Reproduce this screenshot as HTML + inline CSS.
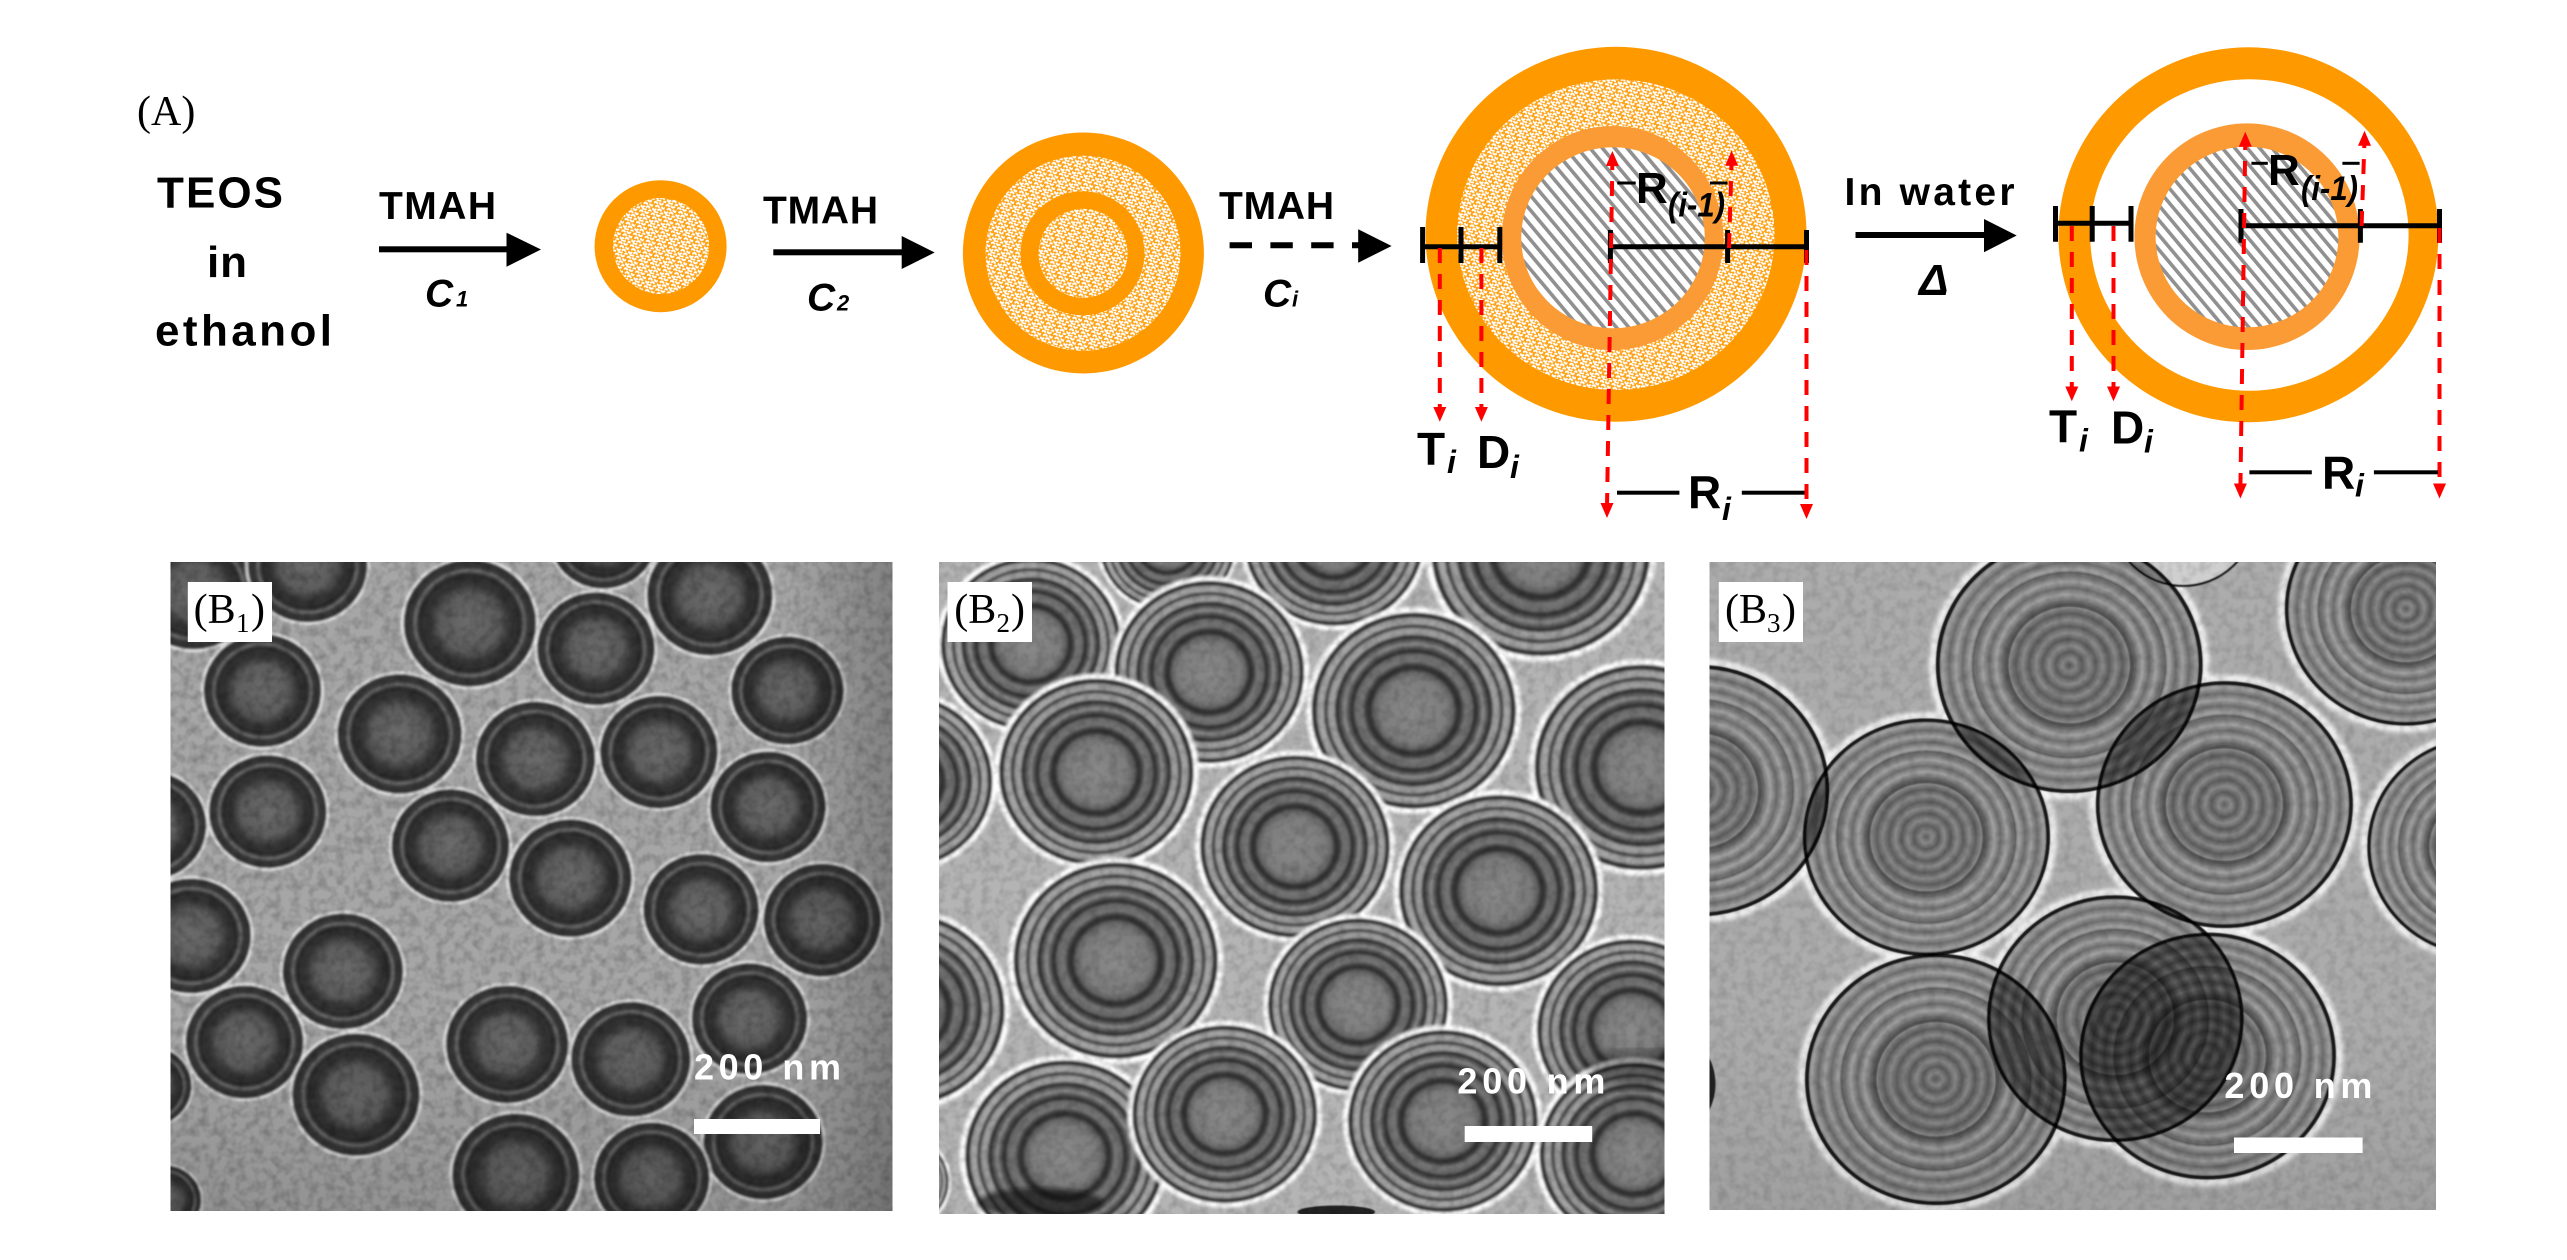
<!DOCTYPE html>
<html><head><meta charset="utf-8"><style>
html,body{margin:0;padding:0;background:#fff}
svg{display:block}
text{font-family:"Liberation Sans",sans-serif}
.b{font-weight:700}
.bi{font-weight:700;font-style:italic}
.s{font-family:"Liberation Serif",serif}
.w{fill:#fff;font-weight:700;font-size:36px}
</style></head><body>
<svg width="2567" height="1260" viewBox="0 0 2567 1260" xmlns="http://www.w3.org/2000/svg">
<defs>
<pattern id="po" width="12" height="12" patternUnits="userSpaceOnUse" patternTransform="rotate(15)">
<rect width="12" height="12" fill="#fea216"/>
<path d="M.5 2q1.500-1.500 3 0M6 1.500q1.500 2 3 0M3 5.500q1.500-2 3 0M9 5q1.500 2 3 0M.5 8.500q1.500 2 3 0M6 8.500q1.500-2 3 0M3 11q1.500 1 3 0M9.500 11.500q1-1.500 2 0" stroke="#fff" stroke-width="2" stroke-linecap="round" fill="none"/>
</pattern>
<pattern id="ha" width="9.500" height="9.500" patternUnits="userSpaceOnUse" patternTransform="rotate(-40)">
<rect width="9.500" height="9.500" fill="#fff"/><rect width="3.600" height="9.500" fill="#909090"/>
</pattern>
<radialGradient id="g1" gradientUnits="userSpaceOnUse" cx="0" cy="0" r="108">
<stop offset="0" stop-color="#6c6c6c"/><stop offset=".42" stop-color="#5c5c5c"/><stop offset=".58" stop-color="#353535"/><stop offset=".72" stop-color="#2c2c2c"/><stop offset=".775" stop-color="#6e6e6e"/><stop offset=".82" stop-color="#3a3a3a"/><stop offset=".9" stop-color="#303030"/><stop offset=".926" stop-color="#4a4a4a"/><stop offset=".95" stop-color="#f0f0f0"/><stop offset="1" stop-color="#eee" stop-opacity="0"/>
</radialGradient>
<radialGradient id="g2" gradientUnits="userSpaceOnUse" cx="0" cy="0" r="108">
<stop offset="0" stop-color="#8a8a8a"/><stop offset=".3" stop-color="#7d7d7d"/><stop offset=".36" stop-color="#666"/><stop offset=".4" stop-color="#2f2f2f"/><stop offset=".43" stop-color="#3a3a3a"/><stop offset=".47" stop-color="#777"/><stop offset=".53" stop-color="#6a6a6a"/><stop offset=".56" stop-color="#2e2e2e"/><stop offset=".59" stop-color="#4d4d4d"/><stop offset=".63" stop-color="#8c8c8c"/><stop offset=".67" stop-color="#555"/><stop offset=".7" stop-color="#2d2d2d"/><stop offset=".73" stop-color="#a0a0a0"/><stop offset=".77" stop-color="#9a9a9a"/><stop offset=".8" stop-color="#3c3c3c"/><stop offset=".83" stop-color="#a8a8a8"/><stop offset=".87" stop-color="#a0a0a0"/><stop offset=".895" stop-color="#333"/><stop offset=".92" stop-color="#3a3a3a"/><stop offset=".935" stop-color="#fbfbfb"/><stop offset=".96" stop-color="#fff"/><stop offset="1" stop-color="#fff" stop-opacity="0"/>
</radialGradient>
<radialGradient id="g3" gradientUnits="userSpaceOnUse" cx="0" cy="0" r="10" spreadMethod="repeat">
<stop offset="0" stop-color="#6e6e6e"/><stop offset=".5" stop-color="#a2a2a2"/><stop offset="1" stop-color="#6e6e6e"/>
</radialGradient>
<g id="p1"><circle r="108" fill="url(#g1)"/></g>
<g id="p2"><circle r="108" fill="url(#g2)"/></g>
<g id="p3" style="mix-blend-mode:multiply"><circle r="100" fill="url(#g3)"/><circle r="50" fill="#000" fill-opacity=".14"/><circle r="47" fill="none" stroke="#555" stroke-width="3"/><circle r="72" fill="none" stroke="#666" stroke-width="2"/><circle r="98.500" fill="none" stroke="#1c1c1c" stroke-width="3"/></g>
<clipPath id="c1"><rect x="170.500" y="562" width="722" height="649"/></clipPath>
<clipPath id="c2"><rect x="939" y="562" width="725.500" height="652"/></clipPath>
<clipPath id="c3"><rect x="1709.500" y="562" width="726.500" height="648"/></clipPath>
<filter id="bl" x="-5%" y="-5%" width="110%" height="110%"><feGaussianBlur stdDeviation="1.100"/></filter>
<filter id="hb"><feGaussianBlur stdDeviation="5"/></filter>
<filter id="hb2"><feGaussianBlur stdDeviation="14"/></filter>
<filter id="nz" x="0" y="0" width="100%" height="100%"><feTurbulence type="fractalNoise" baseFrequency=".11" numOctaves="2" seed="4"/><feColorMatrix values="0 0 0 0 0 0 0 0 0 0 0 0 0 0 0 2.200 0 0 0 -.85"/></filter>
<linearGradient id="vr" x1="0" x2="1" y1="0" y2="0"><stop offset=".85" stop-color="#000" stop-opacity="0"/><stop offset="1" stop-color="#000" stop-opacity=".22"/></linearGradient>
<linearGradient id="vb" x1="0" x2="0" y1="0" y2="1"><stop offset=".7" stop-color="#000" stop-opacity="0"/><stop offset="1" stop-color="#000" stop-opacity=".12"/></linearGradient>
</defs>
<rect width="2567" height="1260" fill="#fff"/>

<!-- Panel A -->
<text class="s" x="137" y="125" font-size="42">(A)</text>
<text class="b" x="157" y="207.700" font-size="44" textLength="126" lengthAdjust="spacing">TEOS</text>
<text class="b" x="207" y="277" font-size="44" textLength="40" lengthAdjust="spacing">in</text>
<text class="b" x="155" y="345.700" font-size="44" textLength="177" lengthAdjust="spacing">ethanol</text>

<text class="b" x="379" y="219" font-size="39" textLength="117" lengthAdjust="spacing">TMAH</text>
<rect x="379" y="246.300" width="130" height="6"/><path d="M506.500 232.700L541 249.500 506.500 266.700z"/>
<text class="bi" x="425" y="306.700" font-size="39">C</text><text class="bi" x="456" y="306.700" font-size="22">1</text>

<circle cx="660.600" cy="246.200" r="66" fill="#ff9900"/>
<circle cx="661" cy="246" r="48" fill="url(#po)"/>

<text class="b" x="763" y="223.300" font-size="39" textLength="115" lengthAdjust="spacing">TMAH</text>
<rect x="773.300" y="249.300" width="130" height="6"/><path d="M901.700 236L934.700 252.500 901.700 269z"/>
<text class="bi" x="807" y="310.700" font-size="39">C</text><text class="bi" x="837" y="310.700" font-size="22">2</text>

<circle cx="1083.400" cy="253" r="120.500" fill="#ff9900"/>
<circle cx="1083" cy="253.300" r="97.500" fill="url(#po)"/>
<circle cx="1082.500" cy="253.300" r="62" fill="#ff9900"/>
<circle cx="1083" cy="253.300" r="44.500" fill="url(#po)"/>

<text class="b" x="1219" y="219" font-size="39" textLength="115" lengthAdjust="spacing">TMAH</text>
<path d="M1229.600 245.300H1360" stroke="#000" stroke-width="6" stroke-dasharray="22.400 18.400" fill="none"/><path d="M1358.200 229.300L1391.600 246 1358.200 262.700z"/>
<text class="bi" x="1263" y="306.700" font-size="39">C</text><text class="bi" x="1292" y="306.700" font-size="22">i</text>

<!-- Particle 3 -->
<ellipse cx="1616" cy="234.300" rx="190.500" ry="187.500" fill="#ff9900"/>
<ellipse cx="1615.800" cy="234.700" rx="158.700" ry="155.300" fill="url(#po)"/>
<ellipse cx="1612.600" cy="238" rx="110.800" ry="112" fill="#fb9b35"/>
<ellipse cx="1613" cy="237.800" rx="91.800" ry="90.500" fill="url(#ha)"/>

<g stroke="#000" stroke-width="5" fill="none">
<path d="M1422.600 246.700H1499.800M1422.600 227V263M1461 227V263M1499.800 227V263"/>
<path d="M1610.400 246.700H1806.500M1610.400 230V263M1727.600 230V263M1806.500 230V263"/>
</g>
<g stroke="#f00" stroke-width="4" fill="none" stroke-dasharray="15 11">
<path d="M1439.800 248V410M1481.400 248V410M1607 508L1612.400 160M1806.500 250V508M1729 248L1731.600 162"/>
</g>
<g fill="#f00">
<path d="M1433.300 407h13l-6.500 14.700zM1474.900 407h13l-6.500 14.700zM1600.500 503h13l-6.500 15zM1800 504h13l-6.500 15zM1605.900 166h13l-6.500-15zM1725.100 165.700h13l-6.500-15z"/>
</g>
<text class="b" x="1417" y="465" font-size="46">T</text><text class="bi" x="1447" y="473" font-size="32">i</text>
<text class="b" x="1477" y="468" font-size="46">D</text><text class="bi" x="1510" y="478" font-size="32">i</text>
<rect x="1617" y="490.700" width="62.400" height="4"/><rect x="1741.800" y="490.700" width="62.700" height="4"/>
<text class="b" x="1688" y="508" font-size="46">R</text><text class="bi" x="1722" y="520" font-size="32">i</text>
<rect x="1617.300" y="181.500" width="18.400" height="3"/><rect x="1710" y="181.500" width="17.500" height="3"/>
<text class="b" x="1636" y="203" font-size="44">R</text><text class="bi" x="1668" y="216.700" font-size="34" textLength="57" lengthAdjust="spacingAndGlyphs">(i-1)</text>

<text class="b" x="1844.500" y="205" font-size="39" textLength="170" lengthAdjust="spacing">In water</text>
<rect x="1855.500" y="232" width="131" height="6"/><path d="M1984 219L2016.700 235.500 1984 252.300z"/>
<text class="bi" x="1919" y="295" font-size="44">Δ</text>

<!-- Particle 4 -->
<ellipse cx="2248.400" cy="234.800" rx="190" ry="187.500" fill="#ff9900"/>
<ellipse cx="2249.400" cy="235" rx="159.200" ry="155.700" fill="#fff"/>
<ellipse cx="2247" cy="236.700" rx="112.600" ry="113.300" fill="#fb9b35"/>
<ellipse cx="2247" cy="237" rx="91.400" ry="90.300" fill="url(#ha)"/>
<g stroke="#000" stroke-width="5" fill="none">
<path d="M2055.500 223.300H2131M2055.500 206V241.700M2092.200 206V241.700M2131 206V241.700"/>
<path d="M2241 225.700H2439.500M2241 209V242.700M2360.400 209V242.700M2439.500 209V242.700"/>
</g>
<g stroke="#f00" stroke-width="4" fill="none" stroke-dasharray="15 11">
<path d="M2071.800 226V390M2113.500 226V390M2240.400 488L2245.300 140M2439.500 228V488M2361.600 226L2364.500 140"/>
</g>
<g fill="#f00">
<path d="M2065.300 386.500h13l-6.500 14.700zM2107 386.500h13l-6.500 14.700zM2233.900 483.500h13l-6.500 15zM2433 483.500h13l-6.500 15zM2238.800 146.700h13l-6.500-15zM2358 145.700h13l-6.500-15z"/>
</g>
<text class="b" x="2049" y="442.700" font-size="46">T</text><text class="bi" x="2079" y="451.700" font-size="32">i</text>
<text class="b" x="2111" y="443.300" font-size="46">D</text><text class="bi" x="2144" y="452.700" font-size="32">i</text>
<rect x="2249.400" y="470.300" width="62.400" height="4"/><rect x="2373.900" y="470.300" width="64" height="4"/>
<text class="b" x="2322" y="488.300" font-size="46">R</text><text class="bi" x="2355" y="496.700" font-size="32">i</text>
<rect x="2251.400" y="161.800" width="16.400" height="3"/><rect x="2342.400" y="161.800" width="17.200" height="3"/>
<text class="b" x="2268" y="185" font-size="44">R</text><text class="bi" x="2301" y="200" font-size="34" textLength="57" lengthAdjust="spacingAndGlyphs">(i-1)</text>

<!-- Panel B1 -->
<g clip-path="url(#c1)">
<rect x="170" y="562" width="723" height="650" fill="#a6a6a6"/>
<g filter="url(#bl)"><g transform="translate(150,530) scale(.4847,.4655)">
<use href="#p1" transform="translate(90,130) scale(1.25)"/>
<use href="#p1" transform="translate(325,75) scale(1.22)"/>
<use href="#p1" transform="translate(660,200) scale(1.35)"/>
<use href="#p1" transform="translate(935,15) scale(1.1)"/>
<use href="#p1" transform="translate(1155,140) scale(1.28)"/>
<use href="#p1" transform="translate(920,255) scale(1.2)"/>
<use href="#p1" transform="translate(1315,345) scale(1.15)"/>
<use href="#p1" transform="translate(232,345) scale(1.2)"/>
<use href="#p1" transform="translate(515,438) scale(1.27)"/>
<use href="#p1" transform="translate(795,492) scale(1.22)"/>
<use href="#p1" transform="translate(1050,477) scale(1.2)"/>
<use href="#p1" transform="translate(1275,595) scale(1.18)"/>
<use href="#p1" transform="translate(243,605) scale(1.2)"/>
<use href="#p1" transform="translate(0,635) scale(1.15)"/>
<use href="#p1" transform="translate(620,678) scale(1.2)"/>
<use href="#p1" transform="translate(867,748) scale(1.25)"/>
<use href="#p1" transform="translate(1137,815) scale(1.18)"/>
<use href="#p1" transform="translate(1387,838) scale(1.2)"/>
<use href="#p1" transform="translate(85,872) scale(1.22)"/>
<use href="#p1" transform="translate(398,948) scale(1.23)"/>
<use href="#p1" transform="translate(195,1100) scale(1.2)"/>
<use href="#p1" transform="translate(425,1213) scale(1.3)"/>
<use href="#p1" transform="translate(737,1105) scale(1.25)"/>
<use href="#p1" transform="translate(992,1137) scale(1.22)"/>
<use href="#p1" transform="translate(1237,1050) scale(1.18)"/>
<use href="#p1" transform="translate(1265,1315) scale(1.22)"/>
<use href="#p1" transform="translate(755,1385) scale(1.3)"/>
<use href="#p1" transform="translate(1035,1392) scale(1.18)"/>
<use href="#p1" transform="translate(30,1440) scale(.75)"/>
<use href="#p1" transform="translate(0,1195) scale(.85)"/>
</g></g>
<rect x="170" y="562" width="723" height="650" filter="url(#nz)" opacity=".2"/>
<rect x="170" y="562" width="723" height="650" fill="url(#vr)"/>
<rect x="170" y="562" width="723" height="650" fill="url(#vb)"/>
</g>
<rect x="187.800" y="582" width="84.200" height="60" fill="#fff"/>
<text class="s" x="193.600" y="623" font-size="42">(B</text><text class="s" x="236" y="632" font-size="27">1</text><text class="s" x="251" y="623" font-size="42">)</text>
<text class="w" x="694" y="1079.300" textLength="147" lengthAdjust="spacing">200 nm</text>
<rect x="694" y="1119" width="126" height="15" fill="#fff"/>

<!-- Panel B2 -->
<g clip-path="url(#c2)">
<rect x="939" y="562" width="726" height="652" fill="#b4b4b4"/>
<g filter="url(#bl)"><g transform="translate(900,530) scale(.4847,.4655)">
<use href="#p2" transform="translate(552,30) scale(1.4)"/>
<use href="#p2" transform="translate(270,245) scale(1.85)"/>
<use href="#p2" transform="translate(895,20) scale(1.85)"/>
<use href="#p2" transform="translate(1322,45) scale(2.25)"/>
<use href="#p2" transform="translate(5,540) scale(1.85)"/>
<use href="#p2" transform="translate(638,305) scale(1.95)"/>
<use href="#p2" transform="translate(1060,388) scale(2.1)"/>
<use href="#p2" transform="translate(1530,510) scale(2.2)"/>
<use href="#p2" transform="translate(405,520) scale(2)"/>
<use href="#p2" transform="translate(815,680) scale(1.95)"/>
<use href="#p2" transform="translate(1235,775) scale(2.05)"/>
<use href="#p2" transform="translate(10,1030) scale(2.05)"/>
<use href="#p2" transform="translate(445,925) scale(2.1)"/>
<use href="#p2" transform="translate(1510,1075) scale(1.95)"/>
<use href="#p2" transform="translate(945,1020) scale(1.85)"/>
<use href="#p2" transform="translate(1515,1340) scale(1.95)"/>
<use href="#p2" transform="translate(1120,1270) scale(1.95)"/>
<use href="#p2" transform="translate(340,1345) scale(2.05)"/>
<use href="#p2" transform="translate(670,1255) scale(1.9)"/>
<use href="#p2" transform="translate(0,1400) scale(1)"/>
</g></g>
<g transform="translate(900,530) scale(.4847,.4655)">
<ellipse cx="290" cy="1445" rx="130" ry="32" fill="#111" opacity=".6" filter="url(#hb)"/>
<ellipse cx="900" cy="1465" rx="80" ry="14" fill="#222" filter="url(#bl)"/>
<ellipse cx="1530" cy="1160" rx="110" ry="40" fill="#111" opacity=".45" filter="url(#hb2)"/>
</g>
<rect x="939" y="562" width="726" height="652" filter="url(#nz)" opacity=".15"/>
</g>
<rect x="947.500" y="582" width="84.500" height="60" fill="#fff"/>
<text class="s" x="954.300" y="623" font-size="42">(B</text><text class="s" x="996.500" y="632" font-size="27">2</text><text class="s" x="1011" y="623" font-size="42">)</text>
<text class="w" x="1457.400" y="1093.300" textLength="148" lengthAdjust="spacing">200 nm</text>
<rect x="1464.700" y="1126" width="127.500" height="16" fill="#fff"/>

<!-- Panel B3 -->
<g clip-path="url(#c3)">
<rect x="1709" y="562" width="728" height="649" fill="#acacac"/>
<g transform="translate(1650,530) scale(.4847,.4655)">
<g filter="url(#hb)" fill="none" stroke="#f6f6f6" stroke-width="14">
<circle cx="865" cy="290" r="282"/><circle cx="570" cy="660" r="262"/><circle cx="1185" cy="590" r="272"/><circle cx="590" cy="1180" r="277"/><circle cx="1150" cy="1130" r="272"/><circle cx="960" cy="1050" r="272"/><circle cx="1560" cy="170" r="257"/><circle cx="100" cy="560" r="277"/><circle cx="1715" cy="680" r="242"/>
</g>
<g filter="url(#bl)" style="isolation:isolate">
<circle cx="1100" cy="-25" r="145" fill="#cfcfcf" stroke="#222" stroke-width="5"/>
<use href="#p3" transform="translate(960,1050) scale(2.65)"/>
<use href="#p3" transform="translate(865,290) scale(2.75)"/>
<use href="#p3" transform="translate(570,660) scale(2.55)"/>
<use href="#p3" transform="translate(1185,590) scale(2.65)"/>
<use href="#p3" transform="translate(1560,170) scale(2.5)"/>
<use href="#p3" transform="translate(100,560) scale(2.7)"/>
<use href="#p3" transform="translate(1715,680) scale(2.35)"/>
<use href="#p3" transform="translate(590,1180) scale(2.7)"/>
<use href="#p3" transform="translate(1150,1130) scale(2.65)"/>
<ellipse cx="60" cy="1190" rx="75" ry="100" fill="#222"/>
</g>
</g>
<rect x="1709" y="562" width="728" height="649" filter="url(#nz)" opacity=".12"/>
<rect x="1709" y="562" width="728" height="649" fill="url(#vb)" opacity=".6"/>
</g>
<rect x="1718.800" y="582" width="84.200" height="60" fill="#fff"/>
<text class="s" x="1725" y="623" font-size="42">(B</text><text class="s" x="1767" y="632" font-size="27">3</text><text class="s" x="1782" y="623" font-size="42">)</text>
<text class="w" x="2224.400" y="1098" textLength="148" lengthAdjust="spacing">200 nm</text>
<rect x="2234" y="1137.500" width="128.600" height="15.500" fill="#fff"/>
</svg>
</body></html>
